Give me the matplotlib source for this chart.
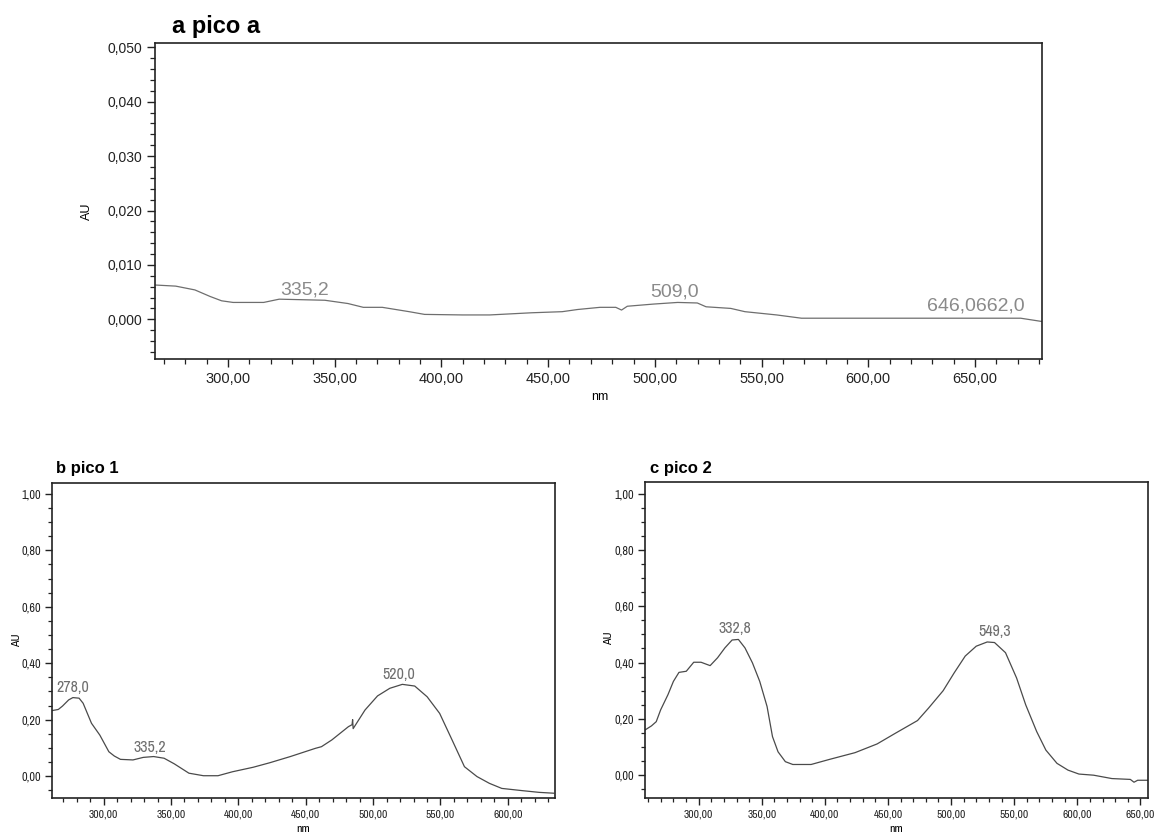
import matplotlib
matplotlib.use("Agg")
import matplotlib.pyplot as plt
from matplotlib import font_manager
from matplotlib.font_manager import FontProperties
from matplotlib.ticker import MultipleLocator, FuncFormatter

# ---------------- data ----------------
# panel a (pico a)
a_nm = [266, 275.5, 284.5, 291.6, 297, 302.4, 316.7, 324, 345.4, 356.2, 363.4, 372.3,
        384.9, 392.1, 410, 422.6, 442.3, 456.6, 463.8, 474.3, 481.7, 484.4, 487.1, 499.4,
        510.7, 519.9, 524, 535.6, 542.2, 557.1, 568.7, 600, 630, 650, 671.4, 681.3]
a_au = [0.0063, 0.0061, 0.0054, 0.0042, 0.0034, 0.0031, 0.0031, 0.0037, 0.0035, 0.0029,
        0.0022, 0.0022, 0.0014, 0.0009, 0.0008, 0.0008, 0.0012, 0.0014, 0.0018, 0.0022,
        0.0022, 0.0017, 0.0024, 0.0028, 0.0031, 0.0030, 0.0023, 0.0020, 0.0014, 0.0008,
        0.0002, 0.0002, 0.0002, 0.0002, 0.0002, -0.0004]
a_peaks = ["335,2", "509,0", "646,0662,0"]
a_peak_x = [335.8, 509.4, 650.6]
a_peak_y = [0.0038, 0.0035, 0.0008]

# panel b (pico 1)
b_nm = [261.8, 266.4, 269.5, 274.1, 277.2, 281.8, 284.8, 291, 297.2, 303.9, 307.9, 312.5,
        321.8, 329.4, 337.1, 344.9, 352.5, 363.3, 374.1, 384.9, 395.6, 411, 423.3, 438.6,
        457.1, 461.7, 469.4, 481.7, 484.4, 484.8, 485.2, 494, 503.3, 512.4, 521.7, 530.9,
        540.1, 549.4, 558.6, 567.8, 577.1, 586.3, 595.5, 610.9, 623.2, 634]
b_au = [0.232, 0.236, 0.248, 0.270, 0.278, 0.276, 0.258, 0.187, 0.145, 0.086, 0.071, 0.059,
        0.057, 0.066, 0.069, 0.063, 0.043, 0.010, 0.001, 0.001, 0.015, 0.031, 0.047, 0.069,
        0.098, 0.104, 0.128, 0.175, 0.182, 0.200, 0.168, 0.234, 0.284, 0.311, 0.325, 0.319,
        0.281, 0.222, 0.128, 0.033, -0.002, -0.026, -0.044, -0.052, -0.058, -0.061]
b_peaks = ["278,0", "335,2", "520,0"]
b_peak_x = [277.2, 334.7, 519.2]
b_peak_y = [0.287, 0.074, 0.334]

# panel c (pico 2)
c_nm = [257.7, 262.6, 266.4, 269.9, 275.7, 280.0, 284.4, 290.2, 296.1, 301.9, 309.1, 315,
        320.8, 326.5, 331.5, 336.7, 342.6, 348.4, 354.2, 358.5, 362.9, 368.7, 374.6, 389.1,
        403.6, 423.9, 441.4, 455.9, 473.4, 482.1, 493.7, 502.4, 511.2, 519.9, 528.6, 534.4,
        543.1, 551.9, 559.1, 567.8, 575.1, 583.9, 592.6, 601.3, 612.9, 627.4, 642, 644.9,
        647.8, 656]
c_au = [0.161, 0.175, 0.190, 0.232, 0.286, 0.333, 0.365, 0.369, 0.401, 0.401, 0.389, 0.417,
        0.452, 0.480, 0.482, 0.452, 0.399, 0.333, 0.244, 0.137, 0.083, 0.048, 0.038, 0.038,
        0.056, 0.080, 0.111, 0.149, 0.194, 0.238, 0.300, 0.363, 0.423, 0.458, 0.473, 0.471,
        0.435, 0.345, 0.250, 0.155, 0.089, 0.042, 0.018, 0.004, 0.000, -0.012, -0.015, -0.025,
        -0.018, -0.018]
c_peaks = ["332,8", "549,3"]
c_peak_x = [328.6, 534.4]
c_peak_y = [0.494, 0.482]

titles = ["a pico a", "b pico 1", "c pico 2"]

# ---------------- fonts ----------------
ttf = font_manager.fontManager.ttflist
names = {f.name for f in ttf}
WIDE = "Liberation Sans" if "Liberation Sans" in names else "DejaVu Sans"
plt.rcParams["font.family"] = [WIDE, "DejaVu Sans"]


def find_narrow():
    prefs = []
    for f in ttf:
        w = f.weight if isinstance(f.weight, int) else (700 if "bold" in str(f.weight) else 400)
        if w >= 600 or f.style != "normal":
            continue
        if f.name == "Liberation Sans Narrow":
            prefs.append((0, f.fname))
        elif "Narrow" in f.name or "Condensed" in f.name:
            prefs.append((1, f.fname))
        elif str(f.stretch) in ("condensed", "semi-condensed") or (
                isinstance(f.stretch, int) and f.stretch < 500):
            prefs.append((2, f.fname))
    prefs.sort()
    return prefs[0][1] if prefs else None


NR = find_narrow()


def nprop(size):
    if NR:
        return FontProperties(fname=NR, size=size)
    return FontProperties(family=WIDE, size=size * 0.88)


W, H = 1154, 835
fig = plt.figure(figsize=(W / 100, H / 100), dpi=100)
fig.patch.set_facecolor("white")


def box(l, t, r, b):
    return [l / W, 1 - b / H, (r - l) / W, (b - t) / H]


def comma_fmt(dec):
    return FuncFormatter(lambda v, p: f"{v:.{dec}f}".replace(".", ","))


def style(ax, xprop, yprop, maj, minr, ydec):
    for s in ax.spines.values():
        s.set_linewidth(1.2)
        s.set_color("#222222")
    ax.tick_params(which="major", direction="out", length=maj, width=1.0, color="#222222",
                   pad=3)
    ax.tick_params(which="minor", direction="out", length=minr, width=0.9, color="#222222")
    ax.tick_params(axis="x", which="both", top=False)
    ax.tick_params(axis="y", which="both", right=False)
    ax.xaxis.set_major_formatter(comma_fmt(2))
    ax.yaxis.set_major_formatter(comma_fmt(ydec))
    for lab in ax.get_xticklabels():
        lab.set_fontproperties(xprop)
        lab.set_color("#222222")
    for lab in ax.get_yticklabels():
        lab.set_fontproperties(yprop)
        lab.set_color("#222222")


def ftext(x, y, s, **kw):
    fig.text(x / W, 1 - y / H, s, **kw)


# ---- panel a ----
axa = fig.add_axes(box(155, 43, 1042, 359))
axa.plot(a_nm, a_au, color="#6e6e6e", lw=0.9)
axa.set_xlim(265.8, 681.4)
axa.set_ylim(-0.0073, 0.0508)
axa.xaxis.set_major_locator(MultipleLocator(50))
axa.xaxis.set_minor_locator(MultipleLocator(10))
axa.yaxis.set_major_locator(MultipleLocator(0.01))
axa.yaxis.set_minor_locator(MultipleLocator(0.002))
style(axa, FontProperties(family=WIDE, size=10.5), FontProperties(family=WIDE, size=10),
      6, 3.5, 3)
for t, x, y in zip(a_peaks, a_peak_x, a_peak_y):
    axa.text(x, y, t, ha="center", va="bottom", fontsize=14, color="#8a8a8a",
             fontfamily=WIDE)
ftext(600, 397, "nm", fontsize=9, fontfamily=WIDE, ha="center", va="center")
ftext(87, 211, "AU", fontsize=9, fontfamily=WIDE, ha="center", va="center", rotation=90)
ftext(172, 26, titles[0], fontsize=17, fontweight="bold", fontfamily=WIDE,
      va="center", ha="left")

# ---- panel b ----
axb = fig.add_axes(box(52, 483, 555, 798))
axb.plot(b_nm, b_au, color="#4a4a4a", lw=0.9)
axb.set_xlim(261.7, 635)
axb.set_ylim(-0.078, 1.039)
axb.xaxis.set_major_locator(MultipleLocator(50))
axb.xaxis.set_minor_locator(MultipleLocator(10))
axb.yaxis.set_major_locator(MultipleLocator(0.2))
axb.yaxis.set_minor_locator(MultipleLocator(0.05))
style(axb, nprop(8.3), nprop(8.8), 5, 3, 2)
for t, x, y in zip(b_peaks, b_peak_x, b_peak_y):
    axb.text(x, y, t, ha="center", va="bottom", color="#6e6e6e",
             fontproperties=nprop(11.5))
ftext(303, 829, "nm", ha="center", va="center", fontproperties=nprop(8.5))
ftext(17, 640, "AU", ha="center", va="center", rotation=90, fontproperties=nprop(8.5))
ftext(56, 468, titles[1], va="center", ha="left", fontsize=12, fontweight="bold",
      fontfamily=WIDE)

# ---- panel c ----
axc = fig.add_axes(box(645, 482, 1148, 798))
axc.plot(c_nm, c_au, color="#4a4a4a", lw=0.9)
axc.set_xlim(257.5, 656)
axc.set_ylim(-0.081, 1.041)
axc.xaxis.set_major_locator(MultipleLocator(50))
axc.xaxis.set_minor_locator(MultipleLocator(10))
axc.yaxis.set_major_locator(MultipleLocator(0.2))
axc.yaxis.set_minor_locator(MultipleLocator(0.05))
style(axc, nprop(8.3), nprop(8.8), 5, 3, 2)
for t, x, y in zip(c_peaks, c_peak_x, c_peak_y):
    axc.text(x, y, t, ha="center", va="bottom", color="#6e6e6e",
             fontproperties=nprop(11.5))
ftext(896, 829, "nm", ha="center", va="center", fontproperties=nprop(8.5))
ftext(609, 638, "AU", ha="center", va="center", rotation=90, fontproperties=nprop(8.5))
ftext(650, 468, titles[2], va="center", ha="left", fontsize=12, fontweight="bold",
      fontfamily=WIDE)

fig.savefig("out.png", dpi=100, facecolor="white")
